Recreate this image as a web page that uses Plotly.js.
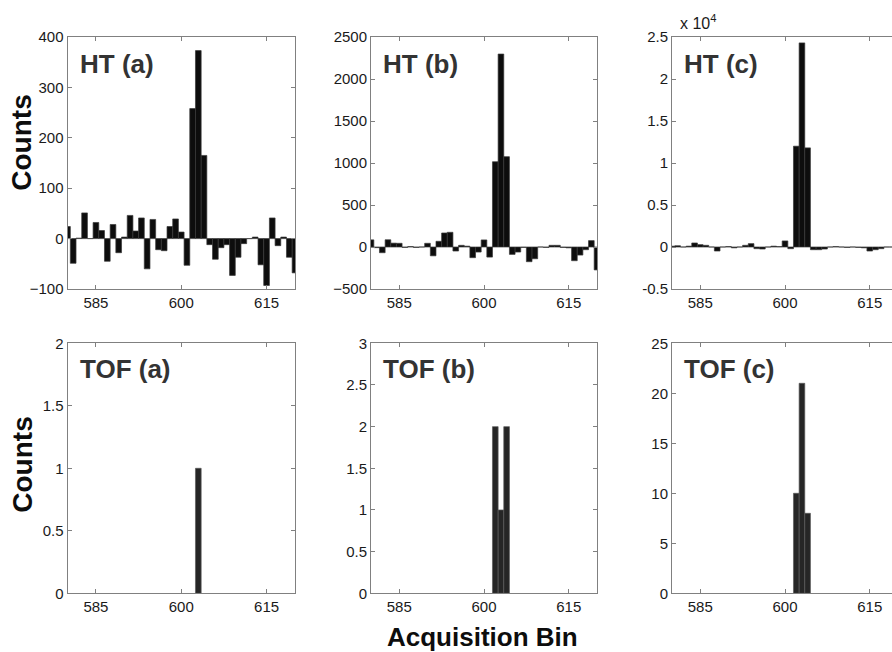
<!DOCTYPE html>
<html>
<head>
<meta charset="utf-8">
<script src="https://cdn.plot.ly/plotly-3.0.1.min.js"></script>
<style>
html,body{margin:0;padding:0;background:#fff;overflow:hidden;width:892px;height:652px;}
#chart{width:900px;height:652px;}
</style>
</head>
<body>
<div id="chart"></div>
<script>
// Acquisition bins (x categories)
var bins = [580,581,582,583,584,585,586,587,588,589,590,591,592,593,594,595,596,597,598,599,600,
            601,602,603,604,605,606,607,608,609,610,611,612,613,614,615,616,617,618,619,620];

// HT counts
var htA = [24,-49,1,51,0,32,16,-45,28,-28,3,46,15,41,-60,38,-22,-24,24,39,13,
           -53,258,373,165,-12,-41,-18,-12,-73,-37,-10,0,3,-52,-93,41,-14,3,-37,-68];
var htB = [85,-8,-68,86,46,44,-5,5,-5,0,44,-105,68,167,175,-48,20,10,-127,-60,84,
           -120,1015,2297,1075,-88,-60,-5,-175,-140,0,-5,20,20,-5,-10,-163,-96,-32,76,-273];
var htC = [100,150,0,100,480,280,200,0,-480,0,50,-100,0,200,400,-200,-240,0,100,50,720,
           -200,12000,24300,11800,-320,-320,-240,0,50,0,-50,0,-50,-100,-480,-320,-200,0,0,0];

// TOF counts (only non-empty bins)
var tofABins = [603];
var tofA = [1];
var tofBBins = [602,603,604];
var tofB = [2,1,2];
var tofCBins = [602,603,604];
var tofC = [10,21,8];

// tick labels
var xTicks = [585,600,615];
var htAticks = [-100,0,100,200,300,400];
var htBticks = [-500,0,500,1000,1500,2000,2500];
var htCticks = [-5000,0,5000,10000,15000,20000,25000];
var htCtickText = ['-0.5','0','0.5','1','1.5','2','2.5'];
var tofAticks = [0,0.5,1,1.5,2];
var tofAtickText = ['0','0.5','1','1.5','2'];
var tofBticks = [0,0.5,1,1.5,2,2.5,3];
var tofBtickText = ['0','0.5','1','1.5','2','2.5','3'];
var tofCticks = [0,5,10,15,20,25];

var panelLabels = ['HT (a)','HT (b)','HT (c)','TOF (a)','TOF (b)','TOF (c)'];

var W = 900, H = 652;
function bar(x, y, xa, ya, fill, line) {
  return {type:'bar', x:x, y:y, xaxis:xa, yaxis:ya, width:1,
          marker:{color:fill, line:{color:line, width:0.7}}, hoverinfo:'x+y', showlegend:false};
}
var data = [
  bar(bins, htA, 'x', 'y', '#0d0d0d', '#3a3a3a'),
  bar(bins, htB, 'x2', 'y2', '#0d0d0d', '#3a3a3a'),
  bar(bins, htC, 'x3', 'y3', '#0d0d0d', '#3a3a3a'),
  bar(tofABins, tofA, 'x4', 'y4', '#262626', '#5a5a5a'),
  bar(tofBBins, tofB, 'x5', 'y5', '#262626', '#5a5a5a'),
  bar(tofCBins, tofC, 'x6', 'y6', '#262626', '#5a5a5a')
];

var colsPx = [[67.5,295],[371,597],[672,898]];
var rowsPx = [[37,289],[343.3,593.3]];
var tickFont = {family:'Liberation Sans, Arial, sans-serif', size:15, color:'#1a1a1a'};
function axBase() {
  return {showline:true, mirror:'allticks', linecolor:'#808080', linewidth:1,
          ticks:'inside', ticklen:4, tickcolor:'#808080', tickwidth:1,
          showgrid:false, zeroline:false, tickfont:tickFont, fixedrange:true};
}
var yConf = [
  {range:[-100,400], tickvals:htAticks},
  {range:[-500,2500], tickvals:htBticks},
  {range:[-5000,25000], tickvals:htCticks, ticktext:htCtickText},
  {range:[0,2], tickvals:tofAticks, ticktext:tofAtickText},
  {range:[0,3], tickvals:tofBticks, ticktext:tofBtickText},
  {range:[0,25], tickvals:tofCticks}
];
var layout = {
  width:W, height:H, margin:{l:0,r:0,t:0,b:0},
  paper_bgcolor:'#fff', plot_bgcolor:'#fff',
  bargap:0, showlegend:false,
  font:{family:'Liberation Sans, Arial, sans-serif', color:'#1a1a1a'},
  annotations:[]
};
for (var i = 0; i < 6; i++) {
  var r = Math.floor(i/3), c = i%3;
  var sfx = i === 0 ? '' : String(i+1);
  var xa = axBase();
  xa.domain = [colsPx[c][0]/W, colsPx[c][1]/W];
  xa.range = [580,620];
  xa.tickvals = xTicks;
  xa.anchor = 'y' + sfx;
  var ya = axBase();
  ya.domain = [1 - rowsPx[r][1]/H, 1 - rowsPx[r][0]/H];
  ya.anchor = 'x' + sfx;
  ya.range = yConf[i].range;
  ya.tickvals = yConf[i].tickvals;
  if (yConf[i].ticktext) ya.ticktext = yConf[i].ticktext;
  layout['xaxis' + sfx] = xa;
  layout['yaxis' + sfx] = ya;
  layout.annotations.push({
    text: panelLabels[i], xref:'x' + sfx + ' domain', yref:'y' + sfx + ' domain',
    x:0.045, y: r === 0 ? 0.893 : 0.897, xanchor:'left', yanchor:'middle', showarrow:false,
    font:{family:'Liberation Sans, Arial, sans-serif', size:26, color:'#333', weight:'bold'}
  });
}
layout.annotations.push(
  {text:'Counts', xref:'paper', yref:'paper', x:21.7/W, y:1-143/H, textangle:-90,
   xanchor:'center', yanchor:'middle', showarrow:false,
   font:{family:'Liberation Sans, Arial, sans-serif', size:28, color:'#0d0d0d', weight:'bold'}},
  {text:'Counts', xref:'paper', yref:'paper', x:21.7/W, y:1-465/H, textangle:-90,
   xanchor:'center', yanchor:'middle', showarrow:false,
   font:{family:'Liberation Sans, Arial, sans-serif', size:28, color:'#0d0d0d', weight:'bold'}},
  {text:'Acquisition Bin', xref:'paper', yref:'paper', x:483/W, y:1-637/H,
   xanchor:'center', yanchor:'middle', showarrow:false,
   font:{family:'Liberation Sans, Arial, sans-serif', size:26, color:'#0d0d0d', weight:'bold'}},
  {text:'x 10<sup>4</sup>', xref:'paper', yref:'paper', x:678/W, y:1-22/H,
   xanchor:'left', yanchor:'middle', showarrow:false,
   font:{family:'Liberation Sans, Arial, sans-serif', size:16, color:'#1a1a1a'}}
);
Plotly.newPlot('chart', data, layout, {staticPlot:true, displayModeBar:false});
</script>
</body>
</html>
